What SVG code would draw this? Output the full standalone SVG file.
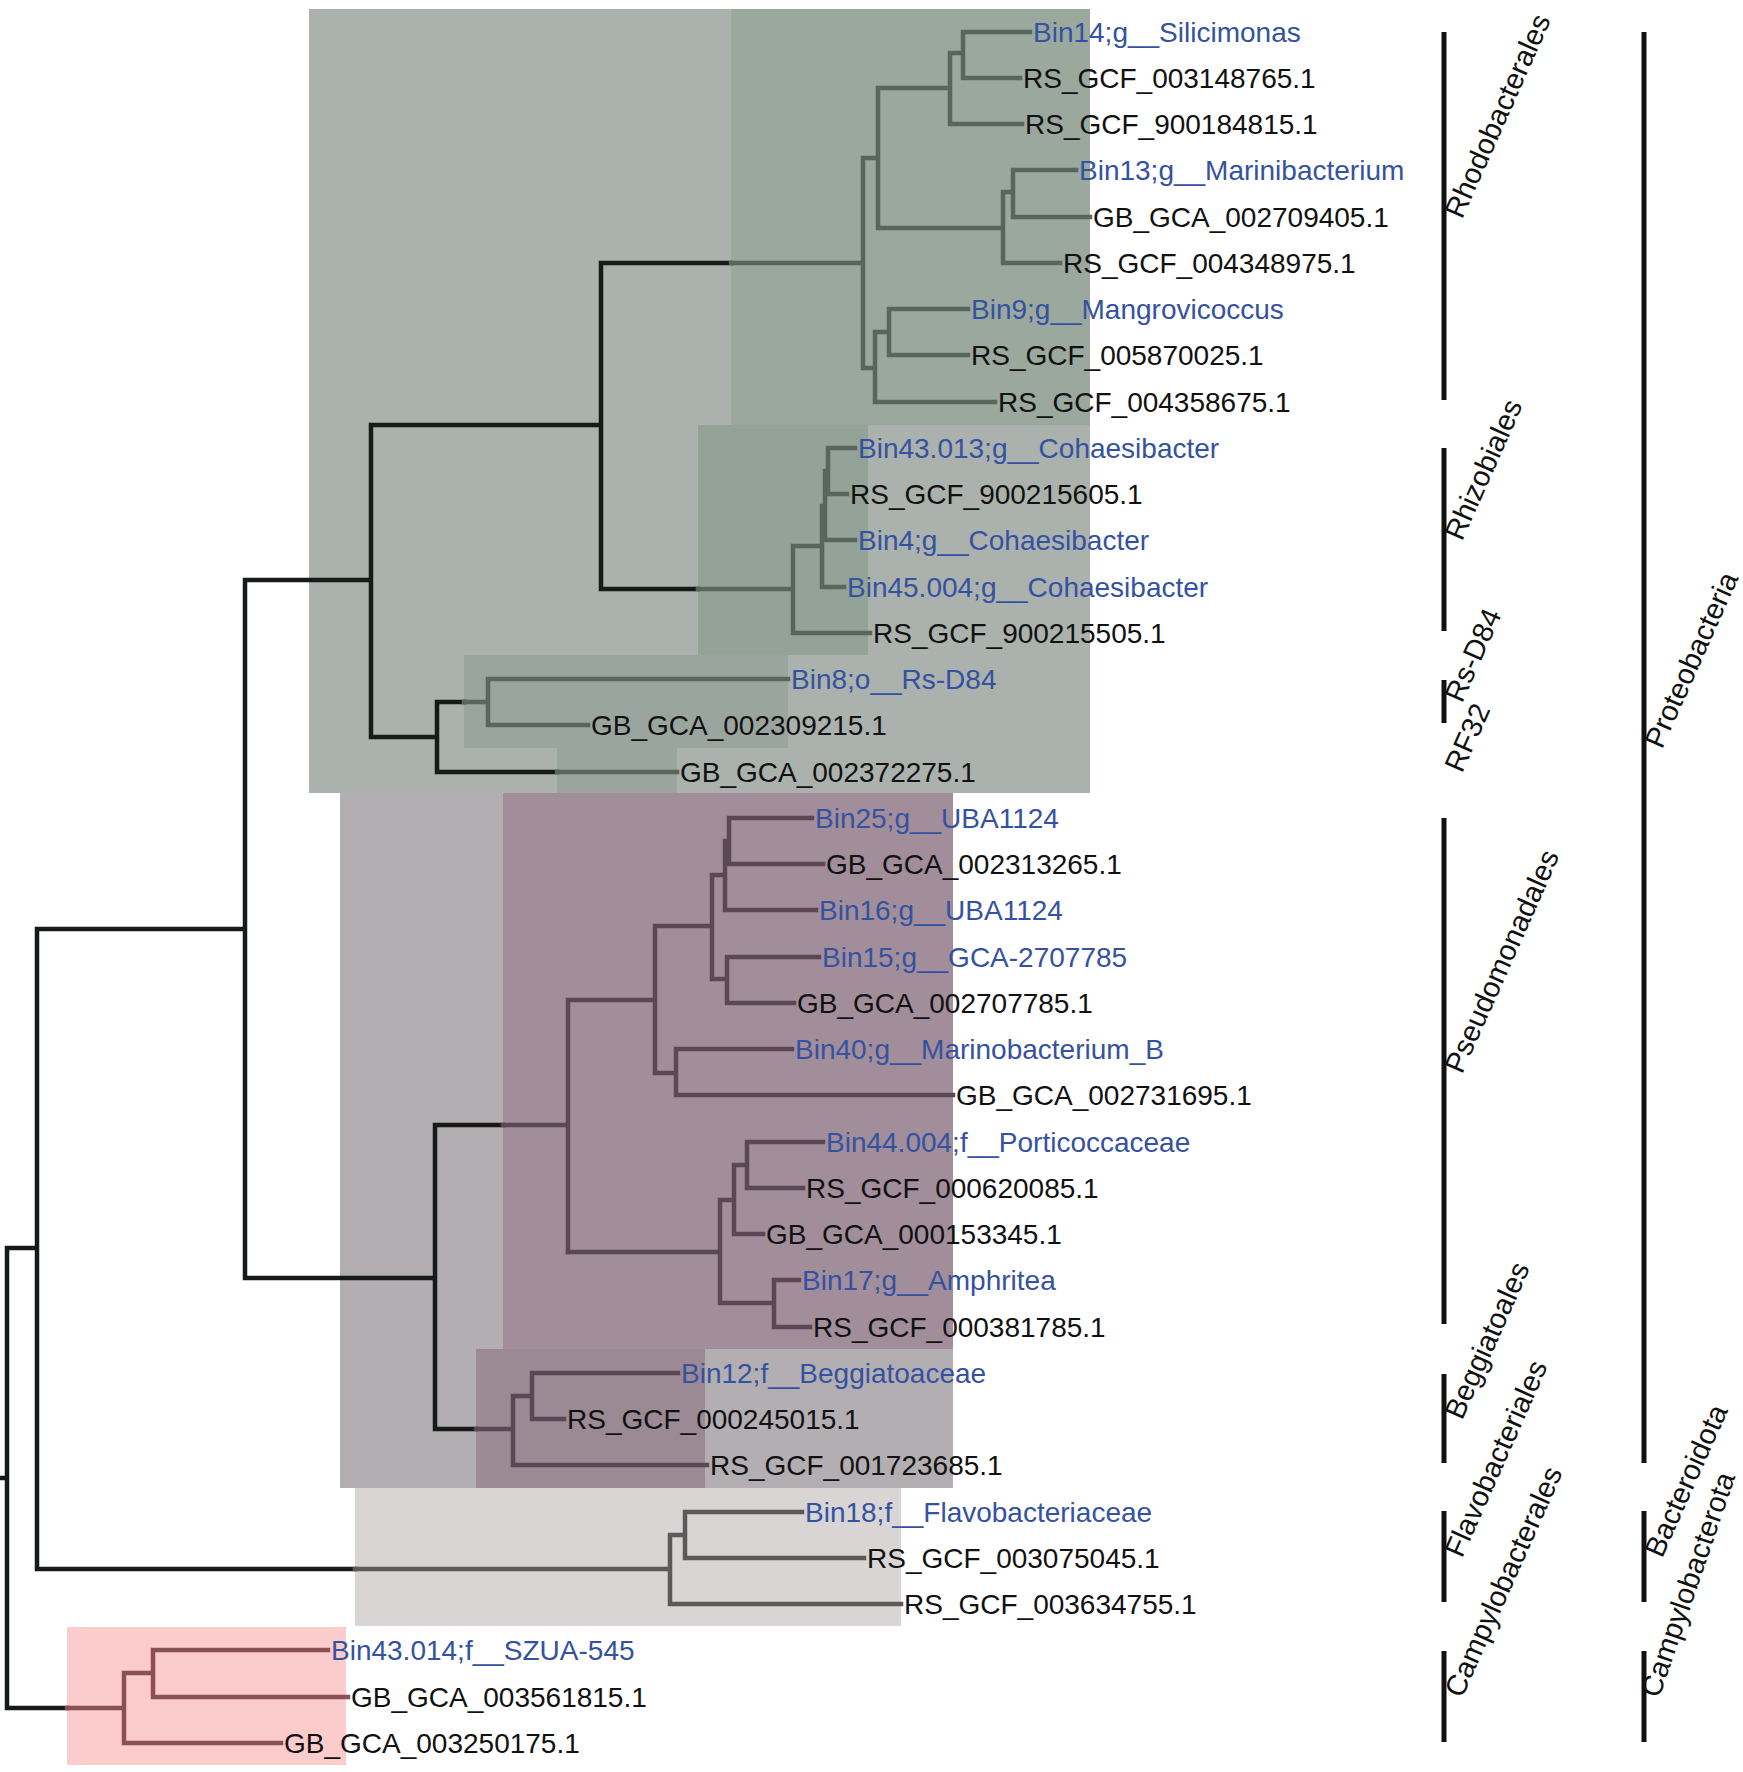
<svg xmlns="http://www.w3.org/2000/svg" width="1743" height="1772" viewBox="0 0 1743 1772">
<style>
.br{fill:none;stroke-linecap:square;stroke-linejoin:miter}
.k{stroke:#161a18;stroke-width:4.5}
.g{stroke:#58675d;stroke-width:4.5}
.p{stroke:#5a4854;stroke-width:4.5}
.f{stroke:#5b5959;stroke-width:4.5}
.c{stroke:#8a5155;stroke-width:4.5}
text{font-family:"Liberation Sans",Arial,sans-serif}
.lab{font-size:28px;fill:#111}
.bin{font-size:28px;fill:#3552a0}
.cl{font-size:29px;fill:#111}
.bar{stroke:#111;stroke-width:5;fill:none}
</style>
<rect width="1743" height="1772" fill="#ffffff"/>
<g id="shading">
<rect x="309" y="9" width="781" height="784" fill="#abb1ac"/>
<rect x="731" y="9" width="359" height="416" fill="#9aa89e"/>
<rect x="698" y="425" width="170" height="230" fill="#93a398"/>
<rect x="464" y="655" width="324" height="93" fill="#9ba59f"/>
<rect x="557" y="748" width="120" height="45" fill="#9ba59f"/>
<rect x="340" y="793" width="613" height="695" fill="#b3aeb1"/>
<rect x="503" y="793" width="450" height="556" fill="#a18e9a"/>
<rect x="476" y="1349" width="229" height="139" fill="#9b8a93"/>
<rect x="355" y="1488" width="546" height="138" fill="#d8d5d4"/>
<rect x="67" y="1627" width="279" height="138" fill="#fccbcc"/>
</g>
<g id="connectors">
<path class="br k" d="M0,1478H7 M7,1248V1708 M7,1248H37 M7,1708H67 M37,929V1569 M37,929H245 M37,1569H355 M245,580V1278 M245,580H371 M245,1278H435 M371,425V737 M371,425H601 M371,737H437 M601,263V589 M601,263H731 M601,589H698 M437,702V772 M437,702H464 M437,772H557 M435,1125V1429 M435,1125H503 M435,1429H476"/>
<path class="br g" d="M731,263H863 M863,158V368 M863,158H878 M878,88V228 M878,88H950 M950,53V124 M950,53H963 M963,32V78 M963,32H1030 M963,78H1020 M950,124H1022 M878,228H1003 M1003,192V263 M1003,192H1013 M1013,170V217 M1013,170H1076 M1013,217H1090 M1003,263H1060 M863,368H875 M875,332V402 M875,332H889 M889,309V355 M889,309H968 M889,355H968 M875,402H995"/>
<path class="br g" d="M698,589H793 M793,546V633 M793,546H822 M822,506V587 M822,506H825 M825,471V540 M825,471H828 M828,448V494 M828,448H855 M828,494H847 M825,540H855 M822,587H844 M793,633H870"/>
<path class="br g" d="M464,702H488 M488,679V725 M488,679H788 M488,725H588 M557,772H677"/>
<path class="br p" d="M503,1125H568 M568,1000V1252 M568,1000H655 M655,926V1073 M655,926H712 M712,875V979 M712,875H725 M725,841V910 M725,841H729 M729,818V864 M729,818H812 M729,864H823 M725,910H816 M712,979H727 M727,957V1003 M727,957H819 M727,1003H794 M655,1073H676 M676,1049V1095 M676,1049H792 M676,1095H953"/>
<path class="br p" d="M568,1252H720 M720,1200V1303 M720,1200H734 M734,1165V1234 M734,1165H747 M747,1142V1188 M747,1142H823 M747,1188H803 M734,1234H763 M720,1303H774 M774,1280V1327 M774,1280H799 M774,1327H810"/>
<path class="br p" d="M476,1429H513 M513,1396V1465 M513,1396H532 M532,1373V1419 M532,1373H678 M532,1419H564 M513,1465H707"/>
<path class="br f" d="M355,1569H670 M670,1535V1604 M670,1535H685 M685,1512V1558 M685,1512H802 M685,1558H864 M670,1604H901"/>
<path class="br c" d="M67,1708H124 M124,1673V1743 M124,1673H153 M153,1650V1697 M153,1650H328 M153,1697H348 M124,1743H281"/>
</g>
<g id="leaves">
<g id="leaf0"><text class="bin" x="1033" y="42">Bin14;g__Silicimonas</text></g>
<g id="leaf1"><text class="lab" x="1023" y="88">RS_GCF_003148765.1</text></g>
<g id="leaf2"><text class="lab" x="1025" y="134">RS_GCF_900184815.1</text></g>
<g id="leaf3"><text class="bin" x="1079" y="180">Bin13;g__Marinibacterium</text></g>
<g id="leaf4"><text class="lab" x="1093" y="227">GB_GCA_002709405.1</text></g>
<g id="leaf5"><text class="lab" x="1063" y="273">RS_GCF_004348975.1</text></g>
<g id="leaf6"><text class="bin" x="971" y="319">Bin9;g__Mangrovicoccus</text></g>
<g id="leaf7"><text class="lab" x="971" y="365">RS_GCF_005870025.1</text></g>
<g id="leaf8"><text class="lab" x="998" y="412">RS_GCF_004358675.1</text></g>
<g id="leaf9"><text class="bin" x="858" y="458">Bin43.013;g__Cohaesibacter</text></g>
<g id="leaf10"><text class="lab" x="850" y="504">RS_GCF_900215605.1</text></g>
<g id="leaf11"><text class="bin" x="858" y="550">Bin4;g__Cohaesibacter</text></g>
<g id="leaf12"><text class="bin" x="847" y="597">Bin45.004;g__Cohaesibacter</text></g>
<g id="leaf13"><text class="lab" x="873" y="643">RS_GCF_900215505.1</text></g>
<g id="leaf14"><text class="bin" x="791" y="689">Bin8;o__Rs-D84</text></g>
<g id="leaf15"><text class="lab" x="591" y="735">GB_GCA_002309215.1</text></g>
<g id="leaf16"><text class="lab" x="680" y="782">GB_GCA_002372275.1</text></g>
<g id="leaf17"><text class="bin" x="815" y="828">Bin25;g__UBA1124</text></g>
<g id="leaf18"><text class="lab" x="826" y="874">GB_GCA_002313265.1</text></g>
<g id="leaf19"><text class="bin" x="819" y="920">Bin16;g__UBA1124</text></g>
<g id="leaf20"><text class="bin" x="822" y="967">Bin15;g__GCA-2707785</text></g>
<g id="leaf21"><text class="lab" x="797" y="1013">GB_GCA_002707785.1</text></g>
<g id="leaf22"><text class="bin" x="795" y="1059">Bin40;g__Marinobacterium_B</text></g>
<g id="leaf23"><text class="lab" x="956" y="1105">GB_GCA_002731695.1</text></g>
<g id="leaf24"><text class="bin" x="826" y="1152">Bin44.004;f__Porticoccaceae</text></g>
<g id="leaf25"><text class="lab" x="806" y="1198">RS_GCF_000620085.1</text></g>
<g id="leaf26"><text class="lab" x="766" y="1244">GB_GCA_000153345.1</text></g>
<g id="leaf27"><text class="bin" x="802" y="1290">Bin17;g__Amphritea</text></g>
<g id="leaf28"><text class="lab" x="813" y="1337">RS_GCF_000381785.1</text></g>
<g id="leaf29"><text class="bin" x="681" y="1383">Bin12;f__Beggiatoaceae</text></g>
<g id="leaf30"><text class="lab" x="567" y="1429">RS_GCF_000245015.1</text></g>
<g id="leaf31"><text class="lab" x="710" y="1475">RS_GCF_001723685.1</text></g>
<g id="leaf32"><text class="bin" x="805" y="1522">Bin18;f__Flavobacteriaceae</text></g>
<g id="leaf33"><text class="lab" x="867" y="1568">RS_GCF_003075045.1</text></g>
<g id="leaf34"><text class="lab" x="904" y="1614">RS_GCF_003634755.1</text></g>
<g id="leaf35"><text class="bin" x="331" y="1660">Bin43.014;f__SZUA-545</text></g>
<g id="leaf36"><text class="lab" x="351" y="1707">GB_GCA_003561815.1</text></g>
<g id="leaf37"><text class="lab" x="284" y="1753">GB_GCA_003250175.1</text></g>
</g>
<g id="clades-order">
<g id="rhodobacterales"><path class="bar" d="M1444,32V400"/><text class="cl" transform="translate(1462,220) rotate(-66)">Rhodobacterales</text></g>
<g id="rhizobiales"><path class="bar" d="M1444,448V631"/><text class="cl" transform="translate(1462,542) rotate(-66)">Rhizobiales</text></g>
<g id="rs-d84"><path class="bar" d="M1444,680V723"/><text class="cl" transform="translate(1462,704) rotate(-66)">Rs-D84</text></g>
<g id="rf32"><text class="cl" transform="translate(1462,774) rotate(-66)">RF32</text></g>
<g id="pseudomonadales"><path class="bar" d="M1444,818V1324"/><text class="cl" transform="translate(1462,1075) rotate(-66)">Pseudomonadales</text></g>
<g id="beggiatoales"><path class="bar" d="M1444,1374V1463"/><text class="cl" transform="translate(1462,1421) rotate(-66)">Beggiatoales</text></g>
<g id="flavobacteriales"><path class="bar" d="M1444,1511V1602"/><text class="cl" transform="translate(1462,1559) rotate(-66)">Flavobacteriales</text></g>
<g id="campylobacterales"><path class="bar" d="M1444,1651V1742"/><text class="cl" transform="translate(1462,1699) rotate(-66)">Campylobacterales</text></g>
</g>
<g id="clades-phylum">
<g id="proteobacteria"><path class="bar" d="M1644,32V1463"/><text class="cl" transform="translate(1662,750) rotate(-66)">Proteobacteria</text></g>
<g id="bacteroidota"><path class="bar" d="M1644,1511V1602"/><text class="cl" transform="translate(1662,1559) rotate(-66)">Bacteroidota</text></g>
<g id="campylobacterota"><path class="bar" d="M1644,1651V1742"/><text class="cl" transform="translate(1659,1699) rotate(-71)" font-size="28">Campylobacterota</text></g>
</g>
</svg>
